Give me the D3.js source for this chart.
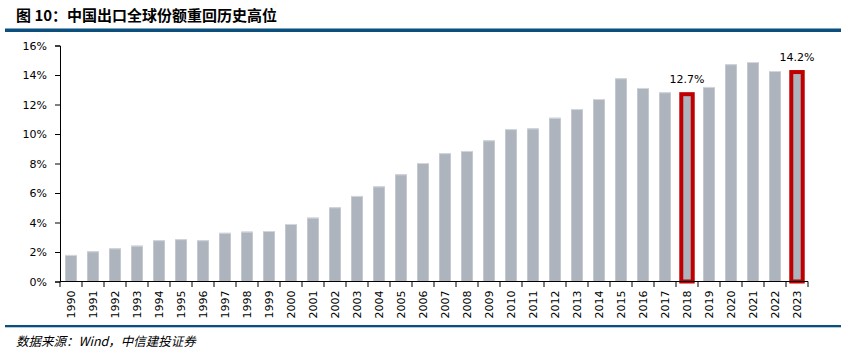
<!DOCTYPE html>
<html><head><meta charset="utf-8">
<script src="https://cdn.jsdelivr.net/npm/d3@7"></script>
<style>body{margin:0;background:#fff}svg{display:block}</style>
</head><body>
<svg id="c" width="856" height="355"></svg>
<script>
const years = ["1990","1991","1992","1993","1994","1995","1996","1997","1998","1999","2000","2001","2002","2003","2004","2005","2006","2007","2008","2009","2010","2011","2012","2013","2014","2015","2016","2017","2018","2019","2020","2021","2022","2023"];
const share = [1.8,2.05,2.25,2.43,2.8,2.87,2.8,3.3,3.38,3.42,3.9,4.33,5.03,5.8,6.45,7.27,8.03,8.7,8.85,9.57,10.33,10.38,11.1,11.69,12.37,13.78,13.12,12.83,12.7,13.19,14.73,14.88,14.27,14.2];
const highlighted = ["2018","2023"];
const yTicks = [0,2,4,6,8,10,12,14,16];
const title = "图 10：中国出口全球份额重回历史高位";
const source = "数据来源：Wind，中信建投证券";

const svg = d3.select("#c");
const L = 60, R = 808, T = 45.5, B = 281.5;
const x = d3.scaleBand().domain(years).range([L, R]).paddingInner(0.48).paddingOuter(0.24);
const xb = d3.scaleBand().domain(years).range([L, R]);
const y = d3.scaleLinear().domain([0, 16]).range([B, T]);

// title & rules
svg.append("text").attr("x", 16).attr("y", 21).attr("font-family", "'Noto Sans CJK SC', sans-serif")
  .attr("font-weight", "bold").attr("font-size", 15).attr("fill", "#000").text(title);
svg.append("rect").attr("x", 5).attr("y", 28.5).attr("width", 836).attr("height", 3.5).attr("fill", "#0a4f7d");
svg.append("rect").attr("x", 5).attr("y", 325).attr("width", 836).attr("height", 2.3).attr("fill", "#0a4f7d");
svg.append("text").attr("x", 16).attr("y", 346).attr("font-family", "'Noto Sans CJK SC', sans-serif")
  .attr("font-style", "italic").attr("font-size", 12.5).attr("fill", "#000").text(source);

// bars
svg.append("g").selectAll("rect").data(years).join("rect")
  .attr("x", d => x(d)).attr("width", x.bandwidth())
  .attr("y", (d, i) => y(share[i])).attr("height", (d, i) => B - y(share[i]))
  .attr("fill", "#adb4bd");
svg.append("g").selectAll("line").data(years).join("line")
  .attr("x1", d => x(d)).attr("x2", d => x(d) + x.bandwidth())
  .attr("y1", (d, i) => y(share[i]) + 0.5).attr("y2", (d, i) => y(share[i]) + 0.5)
  .attr("stroke", "#d4d8dd").attr("stroke-width", 1);

// highlights
const hl = years.map((d, i) => ({d, v: share[i]})).filter(o => highlighted.includes(o.d));
svg.append("g").selectAll("rect").data(hl).join("rect")
  .attr("x", o => x(o.d)).attr("width", x.bandwidth())
  .attr("y", o => y(o.v)).attr("height", o => B - y(o.v))
  .attr("fill", "none").attr("stroke", "#c00000").attr("stroke-width", 4);
svg.append("g").selectAll("text").data(hl).join("text")
  .attr("x", o => x(o.d) + x.bandwidth() / 2).attr("y", o => y(o.v) - 11)
  .attr("text-anchor", "middle").attr("font-family", "'DejaVu Sans', sans-serif")
  .attr("font-size", 11).attr("fill", "#000").text(o => o.v.toFixed(1) + "%");

// y axis
const ya = svg.append("g").attr("transform", `translate(${L},0)`)
  .call(d3.axisLeft(y).tickValues(yTicks).tickFormat(d => d + "%").tickSize(5).tickPadding(8));
ya.selectAll("text").attr("font-family", "'DejaVu Sans', sans-serif").attr("font-size", 11).attr("fill", "#000");
ya.selectAll("line,path").attr("stroke", "#000");

// x axis with ticks at band boundaries
const xa = svg.append("g").attr("transform", `translate(0,${B})`);
xa.append("line").attr("x1", L).attr("x2", R).attr("stroke", "#000");
xa.selectAll("line.t").data(years.concat(["_end"])).join("line").attr("class", "t")
  .attr("x1", d => d === "_end" ? R : xb(d)).attr("x2", d => d === "_end" ? R : xb(d))
  .attr("y1", 0).attr("y2", 5.5).attr("stroke", "#000");
xa.selectAll("text").data(years).join("text")
  .attr("transform", d => `translate(${xb(d) + xb.bandwidth() / 2 + 4},9) rotate(-90)`)
  .attr("text-anchor", "end").attr("font-family", "'DejaVu Sans', sans-serif")
  .attr("font-size", 11).attr("fill", "#000").text(d => d);
</script>
</body></html>
